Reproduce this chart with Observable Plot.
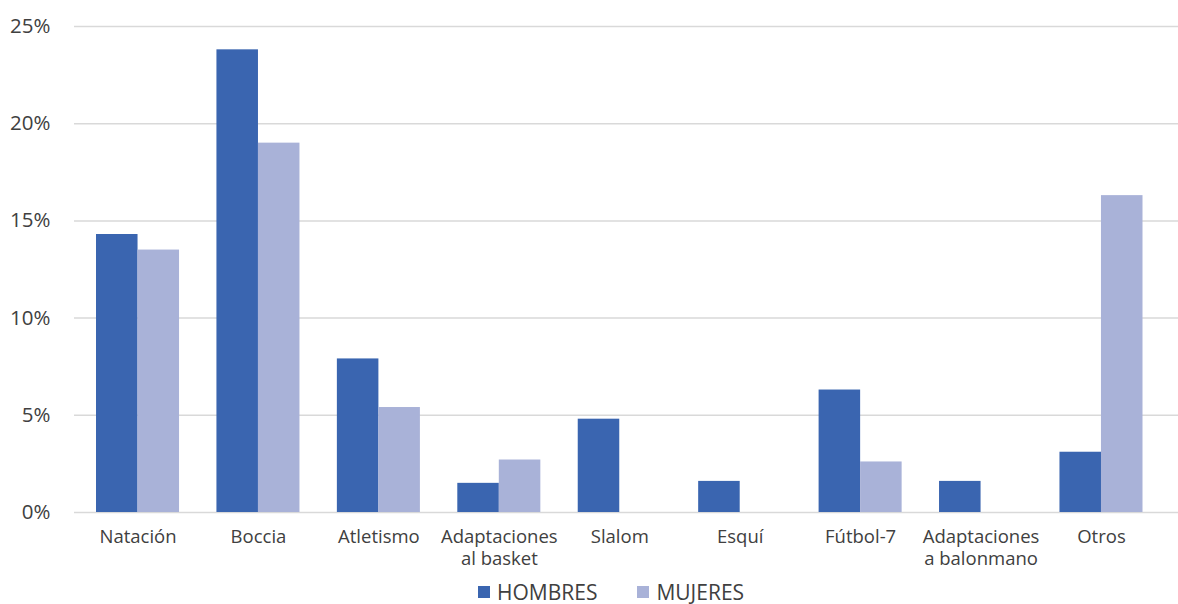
<!DOCTYPE html>
<html>
<head>
<meta charset="utf-8">
<script src="https://cdn.jsdelivr.net/npm/d3@7"></script>
<script src="https://cdn.jsdelivr.net/npm/@observablehq/plot@0.6"></script>
<style>
  body { margin: 0; background: #fff; font-family: "Open Sans", sans-serif; overflow: hidden; }
  #legend { position: relative; height: 24px; line-height: 24px; font-size: 21px; color: #404040; display: flex; align-items: center; padding-left: 478px; }
  .sw { width: 12px; height: 12px; display: inline-block; margin-right: 7px; }
  .item { display: flex; align-items: center; margin-right: 40px; }
</style>
</head>
<body>
<div id="chart"></div>
<div id="legend"></div>
<script>
const categories = ["Natación","Boccia","Atletismo","Adaptaciones al basket","Slalom","Esquí","Fútbol-7","Adaptaciones a balonmano","Otros"];
const tickLabels = ["Natación","Boccia","Atletismo","Adaptaciones\nal basket","Slalom","Esquí","Fútbol-7","Adaptaciones\na balonmano","Otros"];
const series = ["HOMBRES","MUJERES"];
const hombres = [14.3,23.8,7.9,1.5,4.8,1.6,6.3,1.6,3.1];
const mujeres = [13.5,19.0,5.4,2.7,0,0,2.6,0,16.3];
const yTicks = [0,5,10,15,20,25];
const colors = ["#3a65b0","#a9b2d8"];

const data = categories.flatMap((c, i) => [
  {cat: c, sex: series[0], v: hombres[i]},
  {cat: c, sex: series[1], v: mujeres[i]}
]);
const labelOf = new Map(categories.map((c, i) => [c, tickLabels[i]]));

const chart = Plot.plot({
  width: 1178,
  height: 580,
  marginTop: 26,
  marginBottom: 68,
  marginLeft: 74,
  marginRight: 0,
  style: {fontFamily: "Open Sans, sans-serif", color: "#404040", background: "#fff"},
  x: {domain: categories, range: [77.3, 1161.2], padding: 0, round: false},
  y: {domain: [0, 25]},
  color: {domain: series, range: colors},
  marks: [
    Plot.ruleY(yTicks, {stroke: "#d9d9d9", strokeWidth: 1.5}),
    Plot.barY(data.filter(d => d.sex === series[0]), {x: "cat", y: "v", fill: "sex", insetLeft: 18.7, insetRight: 60.2}),
    Plot.barY(data.filter(d => d.sex === series[1]), {x: "cat", y: "v", fill: "sex", insetLeft: 60.2, insetRight: 18.7}),
    Plot.axisY({ticks: yTicks, tickFormat: d => d + "%", tickSize: 0, tickPadding: 24, fontSize: 20.5, label: null, fill: "#404040"}),
    Plot.axisX({tickFormat: d => labelOf.get(d), tickSize: 0, tickPadding: 15, fontSize: 18.5, lineHeight: 1.2, label: null, fill: "#404040"})
  ]
});
document.getElementById("chart").appendChild(chart);

const legend = document.getElementById("legend");
series.forEach((s, i) => {
  const item = document.createElement("span");
  item.className = "item";
  const sw = document.createElement("span");
  sw.className = "sw";
  sw.style.background = colors[i];
  item.appendChild(sw);
  item.appendChild(document.createTextNode(s));
  legend.appendChild(item);
});
</script>
</body>
</html>
